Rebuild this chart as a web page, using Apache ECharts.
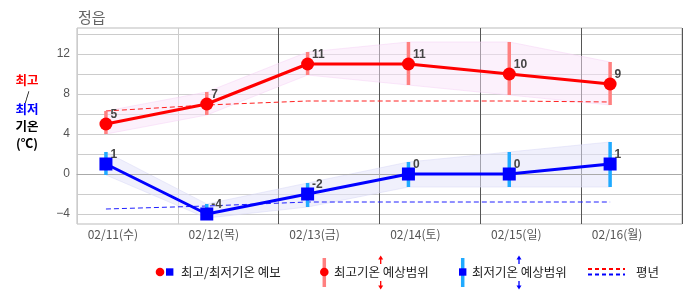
<!DOCTYPE html>
<html><head><meta charset="utf-8">
<script src="https://cdn.jsdelivr.net/npm/echarts@6/dist/echarts.min.js"></script>
<style>html,body{margin:0;padding:0;background:#fff}#c{width:686px;height:295px}</style>
</head><body><div id="c"></div>
<script>
// ---- data ----
const dates = ['02/11(수)','02/12(목)','02/13(금)','02/14(토)','02/15(일)','02/16(월)'];
const maxTemp = [5, 7, 11, 11, 10, 9];
const minTemp = [1, -4, -2, 0, 0, 1];
const maxRangeHigh = [6.3, 8.2, 12.2, 13.2, 13.2, 11.2];
const maxRangeLow  = [4.0, 5.9, 9.9, 8.9, 7.9, 6.9];
const minRangeHigh = [2.2, -3.0, -0.9, 1.2, 2.2, 3.2];
const minRangeLow  = [-0.1, -4.4, -3.3, -1.3, -1.3, -1.3];
const normalMax = [6.3, 6.9, 7.3, 7.3, 7.3, 7.2];
const normalMin = [-3.5, -3.2, -2.8, -2.8, -2.8, -2.8];
const yLabelTicks = [-4, 0, 4, 8, 12];
const yGridTicks = [-4, -2, 0, 2, 4, 6, 8, 10, 12, 14];

// forecast time position within each day slot
const DAY_POS = 0.287;
const FONT = '"Noto Sans CJK KR","Noto Sans",sans-serif';
const xs = dates.map((d, i) => i + DAY_POS);
const pts = arr => arr.map((v, i) => [xs[i], v]);

function bandData(lo, hi) {
  const out = [];
  for (let i = 0; i < xs.length - 1; i++) out.push([xs[i], lo[i], hi[i], xs[i+1], lo[i+1], hi[i+1]]);
  return out;
}
function bandSeries(lo, hi, fill, edge) {
  return {
    type: 'custom', xAxisIndex: 0, yAxisIndex: 0, z: 1, silent: true,
    data: bandData(lo, hi),
    renderItem: function (params, api) {
      const a1 = api.coord([api.value(0), api.value(1)]);
      const b1 = api.coord([api.value(0), api.value(2)]);
      const a2 = api.coord([api.value(3), api.value(4)]);
      const b2 = api.coord([api.value(3), api.value(5)]);
      return { type: 'group', children: [
        { type: 'polygon', shape: { points: [a1, b1, b2, a2] }, style: { fill: fill } },
        { type: 'line', shape: { x1: b1[0], y1: b1[1], x2: b2[0], y2: b2[1] }, style: { stroke: edge, lineWidth: 1 } },
        { type: 'line', shape: { x1: a1[0], y1: a1[1], x2: a2[0], y2: a2[1] }, style: { stroke: edge, lineWidth: 1 } }
      ]};
    }
  };
}
function barSeries(lo, hi, color) {
  return {
    type: 'custom', xAxisIndex: 0, yAxisIndex: 0, z: 3, silent: true,
    data: xs.map((x, i) => [x, lo[i], hi[i]]),
    renderItem: function (params, api) {
      const p1 = api.coord([api.value(0), api.value(1)]);
      const p2 = api.coord([api.value(0), api.value(2)]);
      return { type: 'line', shape: { x1: p1[0], y1: p1[1], x2: p2[0], y2: p2[1] },
        style: { stroke: color, lineWidth: 3.5 } };
    }
  };
}
const valueLabel = {
  show: true, position: 'right', distance: 0, offset: [-2, -9],
  color: '#444', fontWeight: 'bold', fontSize: 12, fontFamily: 'Liberation Sans, Arial, sans-serif'
};

const chart = echarts.init(document.getElementById('c'), null, { renderer: 'canvas' });
const LF = '12.5px ' + FONT;
const T = (text, x, y, fill, extra) => Object.assign({ type: 'text', x: x, y: y, silent: true,
  style: Object.assign({ text: text, fill: fill, font: LF, align: 'left', verticalAlign: 'middle' }, extra || {}) });

chart.setOption({
  animation: false,
  backgroundColor: '#fff',
  title: { text: '정읍', left: 73, top: 5, textStyle: { color: '#666', fontSize: 15, fontWeight: 'normal', fontFamily: FONT } },
  grid: { left: 77, right: 4, top: 28, bottom: 71, show: true, borderColor: '#bbb', borderWidth: 1, backgroundColor: 'transparent' },
  xAxis: [
    { type: 'value', min: 0, max: 6, interval: 1, position: 'bottom', z: 1,
      axisLine: { show: true, lineStyle: { color: '#aaa', type: 'solid' } }, axisTick: { show: false }, axisLabel: { show: false },
      splitLine: { show: true, lineStyle: { color: ['#ccc', '#ccc', '#555', '#555', '#555', '#555', '#555'], width: 1, type: 'solid' } } },
    { type: 'category', data: dates, position: 'bottom', boundaryGap: true,
      axisLine: { show: false }, axisTick: { show: false }, splitLine: { show: false },
      axisLabel: { margin: 4, color: '#555', fontSize: 12, fontFamily: FONT, padding: [0, 29, 0, 0] } }
  ],
  yAxis: { type: 'value', min: -5, max: 14.6, interval: 1,
    axisLine: { show: false }, axisTick: { show: false },
    axisLabel: { margin: 7, color: '#555', fontSize: 12, fontFamily: 'Liberation Sans, Arial, sans-serif',
      formatter: v => yLabelTicks.indexOf(Math.round(v * 1000) / 1000) >= 0 ? String(Math.round(v)).replace('-', '−') : '' },
    splitLine: { show: false } },
  series: [
    { type: 'line', data: [], silent: true, z: -1,
      markLine: { silent: true, symbol: 'none', label: { show: false }, animation: false, z: -1,
        lineStyle: { color: '#ccc', width: 1, type: 'solid' },
        data: yGridTicks.map(v => ({ yAxis: v })) } },
    bandSeries(maxRangeLow, maxRangeHigh, 'rgba(250,228,250,0.5)', 'rgba(245,210,245,0.5)'),
    bandSeries(minRangeLow, minRangeHigh, 'rgba(228,228,250,0.55)', 'rgba(215,215,245,0.5)'),
    { type: 'line', data: pts(normalMax), symbol: 'none', z: 2, silent: true,
      lineStyle: { color: '#ff2020', width: 1, type: [5, 3] } },
    { type: 'line', data: pts(normalMin), symbol: 'none', z: 2, silent: true,
      lineStyle: { color: '#2020ff', width: 1, type: [5, 3] } },
    barSeries(maxRangeLow, maxRangeHigh, '#ff8080'),
    barSeries(minRangeLow, minRangeHigh, '#20aaff'),
    { type: 'line', data: pts(maxTemp), symbol: 'circle', symbolSize: 13, z: 5,
      itemStyle: { color: '#ff0000' }, lineStyle: { color: '#ff0000', width: 3 }, label: valueLabel },
    { type: 'line', data: pts(minTemp), symbol: 'rect', symbolSize: 13, z: 5,
      itemStyle: { color: '#0000ff' }, lineStyle: { color: '#0000ff', width: 3 }, label: valueLabel }
  ],
  graphic: [
    T('최고', 27, 80, '#ff0000', { font: 'bold 12.5px ' + FONT, align: 'center' }),
    T('/', 27, 96, '#000', { font: '12px ' + FONT, align: 'center' }),
    T('최저', 27, 109, '#0000ff', { font: 'bold 12.5px ' + FONT, align: 'center' }),
    T('기온', 27, 126, '#000', { font: 'bold 12.5px ' + FONT, align: 'center' }),
    T('(℃)', 27, 143, '#000', { font: 'bold 12.5px ' + FONT, align: 'center' }),
    // legend 1
    { type: 'circle', shape: { cx: 160, cy: 272, r: 4.3 }, style: { fill: '#ff0000' } },
    { type: 'rect', shape: { x: 166, y: 268.3, width: 7.4, height: 7.4 }, style: { fill: '#0000ff' } },
    T('최고/최저기온 예보', 181, 272.5, '#222'),
    // legend 2
    { type: 'line', shape: { x1: 324.3, y1: 258, x2: 324.3, y2: 287 }, style: { stroke: '#ff8080', lineWidth: 3.5 } },
    { type: 'circle', shape: { cx: 324.3, cy: 272, r: 4.3 }, style: { fill: '#ff0000' } },
    T('최고기온 예상범위', 334, 272.5, '#222'),
    { type: 'line', shape: { x1: 380.7, y1: 258, x2: 380.7, y2: 264 }, style: { stroke: '#ff0000', lineWidth: 1.3 } },
    { type: 'polygon', shape: { points: [[378.2, 259.5], [383.2, 259.5], [380.7, 255.5]] }, style: { fill: '#ff0000' } },
    { type: 'line', shape: { x1: 380.7, y1: 281, x2: 380.7, y2: 287 }, style: { stroke: '#ff0000', lineWidth: 1.3 } },
    { type: 'polygon', shape: { points: [[378.2, 285.5], [383.2, 285.5], [380.7, 289.5]] }, style: { fill: '#ff0000' } },
    // legend 3
    { type: 'line', shape: { x1: 462.7, y1: 258, x2: 462.7, y2: 287 }, style: { stroke: '#20aaff', lineWidth: 3.5 } },
    { type: 'rect', shape: { x: 459, y: 268.3, width: 7.4, height: 7.4 }, style: { fill: '#0000ff' } },
    T('최저기온 예상범위', 472, 272.5, '#222'),
    { type: 'line', shape: { x1: 519, y1: 258, x2: 519, y2: 264 }, style: { stroke: '#0000ff', lineWidth: 1.3 } },
    { type: 'polygon', shape: { points: [[516.5, 259.5], [521.5, 259.5], [519, 255.5]] }, style: { fill: '#0000ff' } },
    { type: 'line', shape: { x1: 519, y1: 281, x2: 519, y2: 287 }, style: { stroke: '#0000ff', lineWidth: 1.3 } },
    { type: 'polygon', shape: { points: [[516.5, 285.5], [521.5, 285.5], [519, 289.5]] }, style: { fill: '#0000ff' } },
    // legend 4
    { type: 'line', shape: { x1: 588, y1: 269, x2: 625, y2: 269 }, style: { stroke: '#ff0000', lineWidth: 2, lineDash: [4, 3] } },
    { type: 'line', shape: { x1: 588, y1: 274.5, x2: 625, y2: 274.5 }, style: { stroke: '#0000ff', lineWidth: 2, lineDash: [4, 3] } },
    T('평년', 636, 272.5, '#222')
  ]
});
</script></body></html>
